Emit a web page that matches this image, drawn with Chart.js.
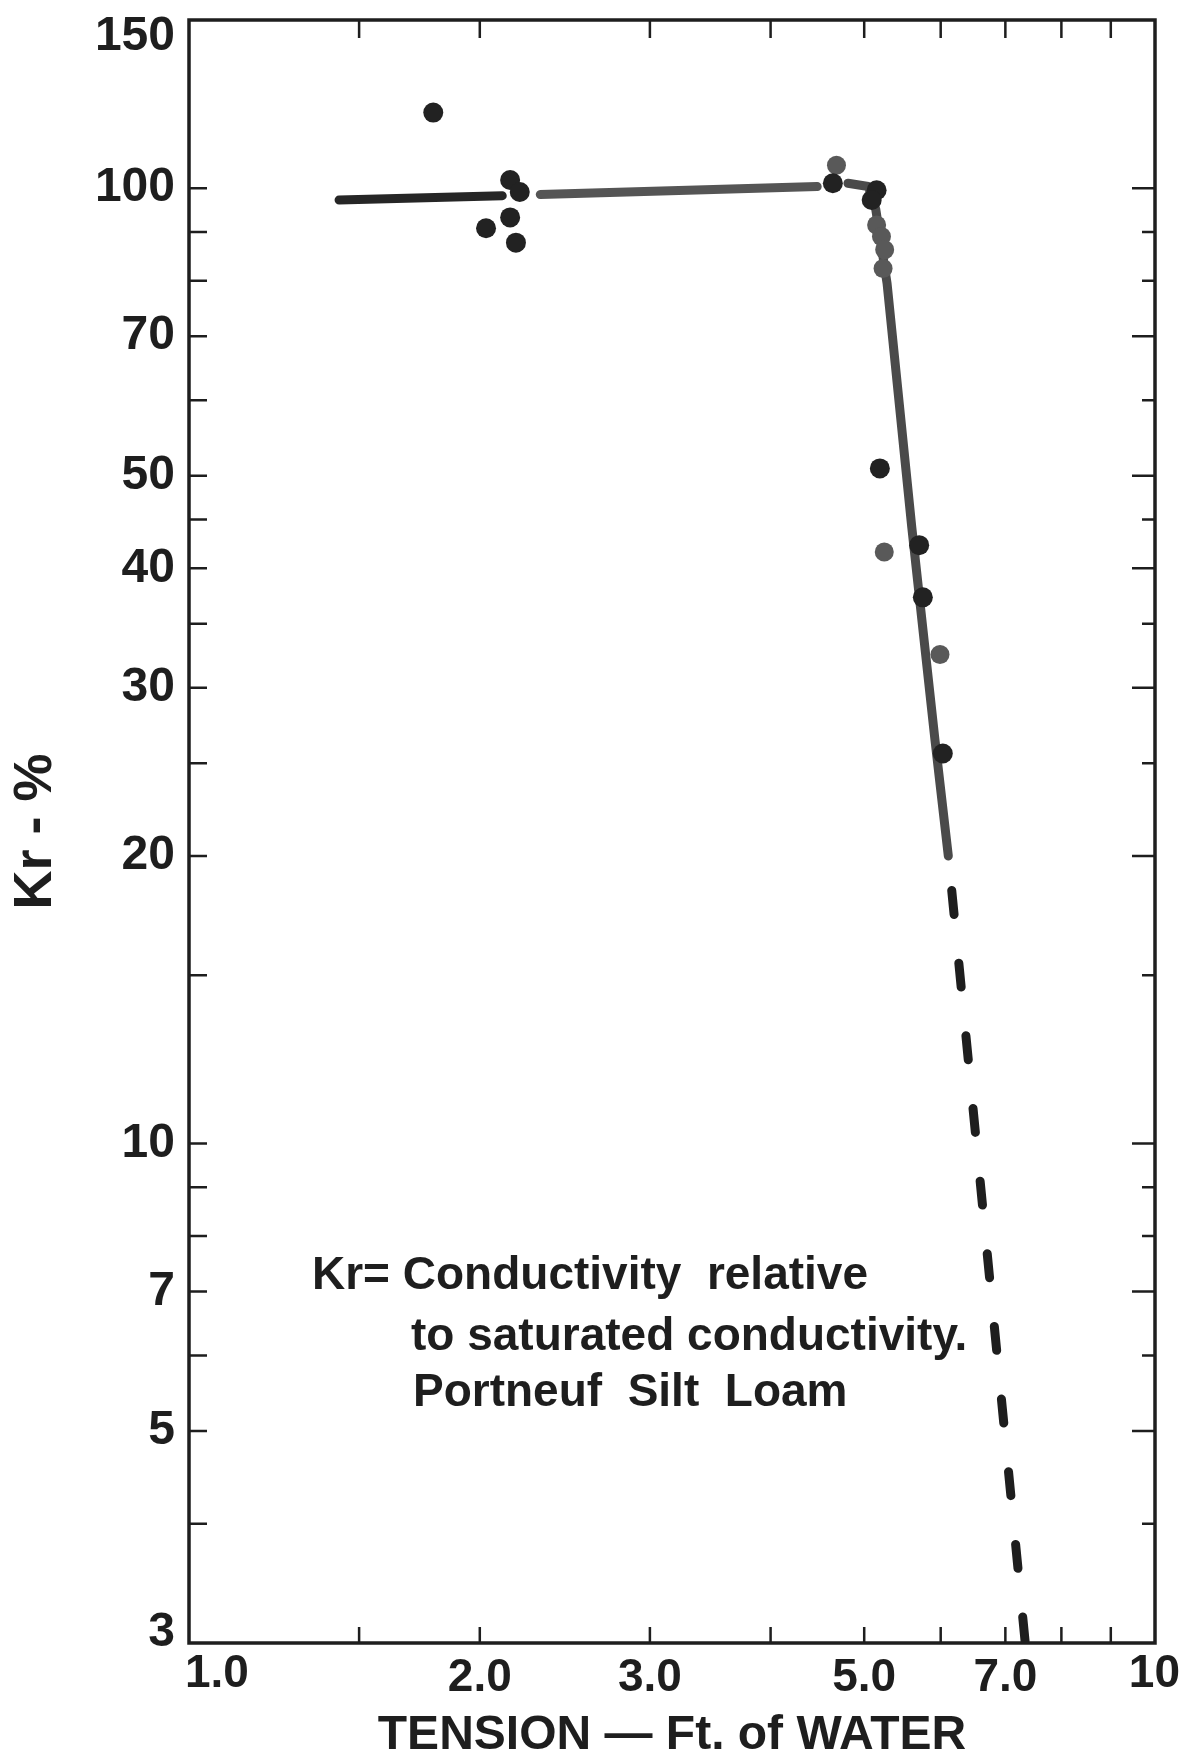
<!DOCTYPE html>
<html>
<head>
<meta charset="utf-8">
<script src="https://cdn.jsdelivr.net/npm/chart.js@4.4.0/dist/chart.umd.min.js"></script>
<style>
  html, body { margin: 0; padding: 0; background: #fff; }
  #wrap { width: 1182px; height: 1761px; }
</style>
</head>
<body>
<div id="wrap"><canvas id="krchart" width="1182" height="1761"></canvas></div>
<script>
// x = tension (ft of water), y = Kr (%), both log
var tensionLabels = [1, 2, 3, 5, 7, 10];
var tensionTicks = [1.5, 2, 3, 4, 5, 6, 7, 8, 9];
var krLabels = [3, 5, 7, 10, 20, 30, 40, 50, 70, 100, 150];
var krTicks = [4, 5, 6, 7, 8, 9, 10, 15, 20, 25, 30, 35, 40, 45, 50, 60, 70, 80, 90, 100];

// measured points - dark dots
var darkTension = [1.79, 2.15, 2.20, 2.03, 2.15, 2.18, 4.64, 5.15, 5.09, 5.19, 5.70, 5.75, 6.03];
var darkKr      = [120, 102, 99.1, 90.8, 93.2, 87.7, 101.2, 99.5, 97.2, 50.9, 42.3, 37.3, 25.6];
// grey dots (fainter in the print)
var greyTension = [4.68, 5.15, 5.21, 5.25, 5.23, 5.245, 5.99];
var greyKr      = [105.7, 91.5, 89.0, 86.2, 82.4, 41.6, 32.5];

// hand fitted curve, in pieces
var fit1Tension = [1.43, 2.11];
var fit1Kr      = [97.2, 98.2];
var fit2Tension = [2.31, 4.47];
var fit2Kr      = [98.5, 100.4];
var fit3Tension = [4.81, 5.05, 5.14, 5.28, 5.60, 5.92, 6.11];
var fit3Kr      = [101.2, 100.4, 95, 79.5, 44.2, 26.4, 20.0];
// extrapolated (dashed)
var extTension = [6.16, 7.34];
var extKr      = [18.4, 3];

var FONT = '"Liberation Sans", Arial, sans-serif';
var INK = '#1e1e1e';

// labels sitting on the frame corners are nudged inward like the original
var edgeX = [1, 10];
var edgeY = [3, 150];

function pts(xs, ys) {
    return xs.map(function (x, i) { return { x: x, y: ys[i] }; });
}

function lineSet(xs, ys, color) {
    return {
        data: pts(xs, ys),
        showLine: true,
        borderColor: color,
        borderWidth: 9,
        borderCapStyle: 'round',
        borderJoinStyle: 'round',
        pointRadius: 0,
        tension: 0
    };
}

function xLabel(v) { return v === 10 ? '10' : Number(v).toFixed(1); }

// frame, inward ticks, corner labels and the note
var frameTicks = {
    id: 'frameTicks',
    beforeDatasetsDraw: function (chart) {
        var ctx = chart.ctx, a = chart.chartArea;
        var xs = chart.scales.x, ys = chart.scales.y;
        ctx.save();
        ctx.strokeStyle = INK;
        ctx.lineWidth = 2.5;
        ctx.beginPath();
        tensionTicks.forEach(function (v) {
            var px = xs.getPixelForValue(v);
            ctx.moveTo(px, a.bottom); ctx.lineTo(px, a.bottom - 16);
            ctx.moveTo(px, a.top); ctx.lineTo(px, a.top + 18);
        });
        krTicks.forEach(function (v) {
            var py = ys.getPixelForValue(v);
            ctx.moveTo(a.left, py); ctx.lineTo(a.left + 18, py);
            var len = krLabels.indexOf(v) >= 0 ? 23 : 13;
            ctx.moveTo(a.right, py); ctx.lineTo(a.right - len, py);
        });
        ctx.stroke();
        ctx.lineWidth = 3.5;
        ctx.strokeRect(a.left, a.top, a.right - a.left, a.bottom - a.top);
        ctx.restore();
    },
    afterDraw: function (chart) {
        var ctx = chart.ctx, a = chart.chartArea;
        var xs = chart.scales.x, ys = chart.scales.y;
        ctx.save();
        ctx.fillStyle = INK;

        // corner tick labels
        ctx.font = 'bold 48px ' + FONT;
        ctx.textAlign = 'right';
        ctx.textBaseline = 'middle';
        ctx.fillText('150', a.left - 14, ys.getPixelForValue(150) + 17);
        ctx.fillText('3', a.left - 14, ys.getPixelForValue(3) - 10);
        ctx.font = 'bold 46px ' + FONT;
        ctx.textAlign = 'left';
        ctx.textBaseline = 'top';
        ctx.fillText(xLabel(1), xs.getPixelForValue(1) - 4, a.bottom + 8);
        ctx.textAlign = 'right';
        ctx.fillText(xLabel(10), xs.getPixelForValue(10) + 25, a.bottom + 8);

        // the note
        ctx.font = 'bold 46px ' + FONT;
        ctx.textAlign = 'left';
        ctx.textBaseline = 'alphabetic';
        ctx.fillText('Kr= Conductivity  relative', a.left + 123, 1289);
        ctx.fillText('to saturated conductivity.', a.left + 222, 1350);
        ctx.fillText('Portneuf  Silt  Loam', a.left + 224, 1406);
        ctx.restore();
    }
};

var ctx = document.getElementById('krchart').getContext('2d');
var krchart = new Chart(ctx, {
    type: 'scatter',
    data: {
        datasets: [
            {
                data: pts(darkTension, darkKr),
                backgroundColor: '#222',
                borderWidth: 0,
                pointRadius: 10
            },
            {
                data: pts(greyTension, greyKr),
                backgroundColor: '#595959',
                borderWidth: 0,
                pointRadius: 9.5
            },
            lineSet(fit1Tension, fit1Kr, '#262626'),
            lineSet(fit2Tension, fit2Kr, '#555555'),
            lineSet(fit3Tension, fit3Kr, '#4a4a4a'),
            Object.assign(lineSet(extTension, extKr, '#1e1e1e'), { borderDash: [24, 49] })
        ]
    },
    options: {
        responsive: false,
        animation: false,
        layout: { padding: { top: 20, right: 27, left: 0, bottom: 0 } },
        plugins: {
            legend: { display: false },
            tooltip: { enabled: false }
        },
        scales: {
            x: {
                type: 'logarithmic',
                min: 1,
                max: 10,
                grid: { display: false, drawTicks: false },
                border: { display: false },
                afterBuildTicks: function (s) {
                    s.ticks = tensionLabels.map(function (v) { return { value: v }; });
                },
                afterFit: function (s) {
                    s.height = 118;
                    s.paddingLeft = 0;
                    s.paddingRight = 0;
                },
                ticks: {
                    autoSkip: false,
                    maxRotation: 0,
                    padding: 8,
                    color: INK,
                    font: { family: FONT, size: 46, weight: 'bold' },
                    callback: function (v) { return edgeX.indexOf(v) >= 0 ? '' : xLabel(v); }
                },
                title: {
                    display: true,
                    text: 'TENSION \u2014 Ft. of WATER',
                    color: INK,
                    font: { family: FONT, size: 48, weight: 'bold', lineHeight: 1.0 },
                    padding: { top: 0, bottom: 1 }
                }
            },
            y: {
                type: 'logarithmic',
                min: 3,
                max: 150,
                grid: { display: false, drawTicks: false },
                border: { display: false },
                afterBuildTicks: function (s) {
                    s.ticks = krLabels.map(function (v) { return { value: v }; });
                },
                afterFit: function (s) {
                    s.width = 189;
                    s.paddingTop = 0;
                    s.paddingBottom = 0;
                },
                ticks: {
                    autoSkip: false,
                    padding: 14,
                    color: INK,
                    font: { family: FONT, size: 48, weight: 'bold' },
                    callback: function (v) { return edgeY.indexOf(v) >= 0 ? '' : String(v); }
                },
                title: {
                    display: true,
                    text: 'Kr - %',
                    color: INK,
                    font: { family: FONT, size: 54, weight: 'bold', lineHeight: 1.2 },
                    padding: { top: 4, bottom: 0 }
                }
            }
        }
    },
    plugins: [frameTicks]
});
</script>
</body>
</html>
